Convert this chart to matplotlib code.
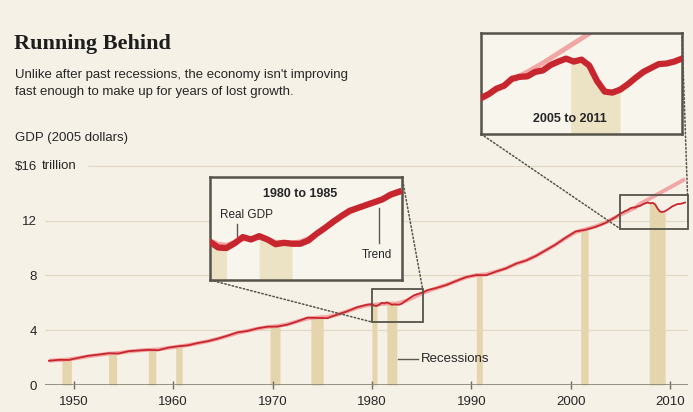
import numpy as np
import matplotlib
matplotlib.use("Agg")
import matplotlib.pyplot as plt
from matplotlib.patches import Rectangle, ConnectionPatch

plt.rcParams['font.family'] = ['Liberation Sans', 'DejaVu Sans']

# ---------------- data (trillions of 2005 dollars) ----------------
years = np.arange(1947, 2012)
gdp_annual = [
    1.77, 1.84, 1.83,
    1.99, 2.14, 2.22, 2.32, 2.30, 2.47, 2.52, 2.57, 2.54, 2.73,
    2.83, 2.90, 3.07, 3.20, 3.39, 3.61, 3.85, 3.95, 4.14, 4.26,
    4.27, 4.41, 4.65, 4.92, 4.90, 4.88, 5.14, 5.38, 5.68, 5.86,
    5.84, 5.99, 5.87, 6.14, 6.58, 6.85, 7.09, 7.31, 7.61, 7.89,
    8.03, 8.02, 8.29, 8.52, 8.87, 9.09, 9.43, 9.85, 10.27, 10.77,
    11.22, 11.34, 11.55, 11.84, 12.26, 12.64, 12.98, 13.21, 13.16, 12.70,
    13.09, 13.30,
]
trend_years = np.arange(1947, 2007)
trend_annual = [
    1.78, 1.82, 1.87,
    1.98, 2.10, 2.20, 2.29, 2.34, 2.44, 2.52, 2.57, 2.60, 2.71,
    2.81, 2.92, 3.06, 3.20, 3.38, 3.59, 3.81, 3.96, 4.12, 4.24,
    4.31, 4.44, 4.65, 4.86, 4.93, 4.97, 5.14, 5.38, 5.64, 5.82,
    5.88, 5.95, 5.95, 6.16, 6.52, 6.83, 7.08, 7.32, 7.60, 7.87,
    8.03, 8.09, 8.29, 8.53, 8.85, 9.10, 9.43, 9.84, 10.27, 10.75,
    11.17, 11.38, 11.58, 11.87, 12.25, 12.62, 12.96,
]

# quarterly detail, 1980Q1-1985Q4
q80_start = 1980
gdp_q80 = [5.91, 5.79, 5.78, 5.88, 6.01, 5.96, 6.03, 5.96,
           5.86, 5.89, 5.87, 5.87, 5.94, 6.08, 6.20, 6.33,
           6.45, 6.56, 6.62, 6.68, 6.74, 6.80, 6.90, 6.96]
trend_q80 = [5.93, 5.86, 5.84, 5.90, 5.97, 5.98, 6.00, 5.96,
             5.90, 5.90, 5.89, 5.91, 5.98, 6.08, 6.19, 6.31,
             6.43, 6.53, 6.61, 6.67, 6.73, 6.80, 6.88, 6.94]

# quarterly detail, 2005Q1-2011Q3
q05_start = 2005
gdp_q05 = [12.53, 12.61, 12.72, 12.78, 12.92, 12.96, 12.97, 13.06,
           13.09, 13.20, 13.27, 13.33, 13.27, 13.31, 13.19, 12.88,
           12.66, 12.64, 12.70, 12.81, 12.94, 13.06, 13.14, 13.22,
           13.23, 13.27, 13.33]
trend_q05 = [12.50, 12.60, 12.70, 12.80, 12.90, 12.98, 13.06, 13.15,
             13.24, 13.34, 13.44, 13.54, 13.64, 13.74, 13.84, 13.94,
             14.04, 14.14, 14.24, 14.34, 14.44, 14.54, 14.64, 14.74,
             14.84, 14.94, 15.04]

recessions = [(1948.8, 1949.75), (1953.5, 1954.3), (1957.5, 1958.25),
              (1960.25, 1960.9), (1969.75, 1970.75), (1973.85, 1975.1),
              (1980.0, 1980.5), (1981.5, 1982.5), (1990.5, 1991.1),
              (2001.0, 2001.75), (2007.9, 2009.5)]

decade_ticks = [1950, 1960, 1970, 1980, 1990, 2000, 2010]
y_ticks = [0, 4, 8, 12, 16]
y_tick_labels = ['0', '4', '8', '12', '$16']

# ---------------- combine annual and quarterly series ----------------
t_annual = years + 0.5
t_q80 = q80_start + np.arange(len(gdp_q80)) / 4
t_q05 = q05_start + np.arange(len(gdp_q05)) / 4
gdp_annual = np.array(gdp_annual)
keep = ~(((t_annual >= 1980) & (t_annual < 1986)) | (t_annual >= 2005))
main_t = np.concatenate([t_annual[keep], t_q80, t_q05])
main_v = np.concatenate([gdp_annual[keep], gdp_q80, gdp_q05])
order = np.argsort(main_t)
main_t, main_v = main_t[order], main_v[order]

trend_t = np.concatenate([trend_years + 0.5, t_q05[t_q05 >= 2007]])
trend_v = np.concatenate([trend_annual, np.array(trend_q05)[t_q05 >= 2007]])

# ---------------- styling ----------------
BG = '#f6f1e6'
RED = '#c8262e'
PINK = '#f2a6a3'
TAN = '#e4d5ad'
TAN_LIGHT = '#ece2c4'
GRID = '#e0d9c8'
TEXT = '#262626'
BOX = '#55534a'

W, H = 693, 412
fig = plt.figure(figsize=(W / 100, H / 100), dpi=100, facecolor=BG)


def fx(px):
    return px / W


def fy(py):
    return 1 - py / H


# ---------------- main chart ----------------
ax = fig.add_axes([fx(45), 27 / H, 643 / W, 232.7 / H])
ax.set_facecolor('none')
ax.set_xlim(1947.1, 2011.8)
ax.set_ylim(0, 17)
for s in ax.spines.values():
    s.set_visible(False)

for v in y_ticks[1:-1]:
    ax.axhline(v, color=GRID, lw=0.9, zorder=0)
ax.hlines(16, 1951.4, 2011.8, color=GRID, lw=0.9, zorder=0)

for s, e in recessions:
    tt = np.linspace(s, e, 30)
    ax.fill_between(tt, 0, np.interp(tt, main_t, main_v), color=TAN, lw=0, zorder=1)

ax.plot(trend_t, trend_v, color=PINK, lw=2.8, zorder=2, solid_capstyle='butt')
ax.plot(main_t, main_v, color=RED, lw=1.3, zorder=3)
ax.axhline(0, color='#8d887b', lw=2, zorder=4)

ax.set_xticks(decade_ticks)
ax.set_xticklabels([str(d) for d in decade_ticks])
ax.tick_params(axis='x', direction='inout', length=6, width=1, color='#6f6b61',
               pad=5, labelsize=9.5, labelcolor=TEXT)
ax.set_yticks(y_ticks)
ax.set_yticklabels(y_tick_labels)
ax.tick_params(axis='y', length=0, pad=6, labelsize=9.5, labelcolor=TEXT)

ax.plot([1982.6, 1984.6], [1.9, 1.9], color='#5a5a52', lw=1, zorder=5)
ax.text(1984.9, 1.9, 'Recessions', va='center', ha='left', fontsize=9.5, color=TEXT)

# zoom windows on the main chart
box80 = (1980.0, 4.6, 5.1, 2.4)
box05 = (2005.0, 11.4, 6.75, 2.5)
for x0, y0, w, h in (box80, box05):
    ax.add_patch(Rectangle((x0, y0), w, h, fill=False, ec=BOX, lw=1.3,
                           zorder=6, clip_on=False))

# ---------------- titles ----------------
fig.text(fx(14), fy(49), 'Running Behind', family=['Liberation Serif'],
         fontweight='bold', fontsize=16, color='#1e1e1e', va='baseline')
fig.text(fx(15), fy(78), "Unlike after past recessions, the economy isn't improving",
         fontsize=9.5, color=TEXT, va='baseline')
fig.text(fx(15), fy(95), 'fast enough to make up for years of lost growth.',
         fontsize=9.5, color=TEXT, va='baseline')
fig.text(fx(15), fy(141), 'GDP (2005 dollars)', fontsize=9.5, color=TEXT, va='baseline')
fig.text(fx(42), fy(166), 'trillion', fontsize=9.5, color=TEXT, va='center')


# ---------------- insets ----------------
def make_inset(rect, xlim, ylim, t, gdp, trend):
    ia = fig.add_axes(rect)
    ia.set_facecolor('#f8f5ed')
    ia.set_xlim(*xlim)
    ia.set_ylim(*ylim)
    ia.set_xticks([])
    ia.set_yticks([])
    for s in ia.spines.values():
        s.set_color(BOX)
        s.set_linewidth(1.8)
    for s, e in recessions:
        lo, hi = max(s, xlim[0]), min(e, xlim[1])
        if hi > lo:
            tt = np.linspace(lo, hi, 30)
            ia.fill_between(tt, ylim[0], np.interp(tt, t, gdp),
                            color=TAN_LIGHT, lw=0, zorder=1)
    ia.plot(t, trend, color=PINK, lw=3.5, zorder=2)
    ia.plot(t, gdp, color=RED, lw=4.5, zorder=3)
    return ia


ax80 = make_inset([fx(210), 132 / H, 192 / W, 103 / H], (1980, 1985.85), (5.11, 7.27),
                  t_q80, gdp_q80, trend_q80)
ax80.text(0.469, 0.835, '1980 to 1985', transform=ax80.transAxes, ha='center',
          va='center', fontsize=9, fontweight='bold', color=TEXT)
ax80.text(0.19, 0.63, 'Real GDP', transform=ax80.transAxes, ha='center',
          va='center', fontsize=8.5, color=TEXT)
ax80.plot([0.14, 0.14], [0.545, 0.43], transform=ax80.transAxes, color='#5a5a52', lw=1)
ax80.text(0.87, 0.243, 'Trend', transform=ax80.transAxes, ha='center',
          va='center', fontsize=8.5, color=TEXT)
ax80.plot([0.88, 0.88], [0.36, 0.70], transform=ax80.transAxes, color='#5a5a52', lw=1)

ax05 = make_inset([fx(481), 278 / H, 201 / W, 101 / H], (2005, 2011.5), (11.8, 13.85),
                  t_q05, gdp_q05, trend_q05)
ax05.text(0.443, 0.15, '2005 to 2011', transform=ax05.transAxes, ha='center',
          va='center', fontsize=9, fontweight='bold', color=TEXT)

# dotted leader lines from each inset to its window
links = [
    (ax80, (0, 0), (box80[0], box80[1])),
    (ax80, (1, 1), (box80[0] + box80[2], box80[1] + box80[3])),
    (ax05, (0, 0), (box05[0], box05[1])),
    (ax05, (1, 1), (box05[0] + box05[2], box05[1] + box05[3])),
]
for ia, a_xy, b_xy in links:
    con = ConnectionPatch(xyA=a_xy, coordsA=ia.transAxes, xyB=b_xy, coordsB=ax.transData,
                          color='#55534a', lw=1.1, linestyle=(0, (1, 1.5)))
    fig.add_artist(con)

fig.savefig('out.png', dpi=100, facecolor=BG)
